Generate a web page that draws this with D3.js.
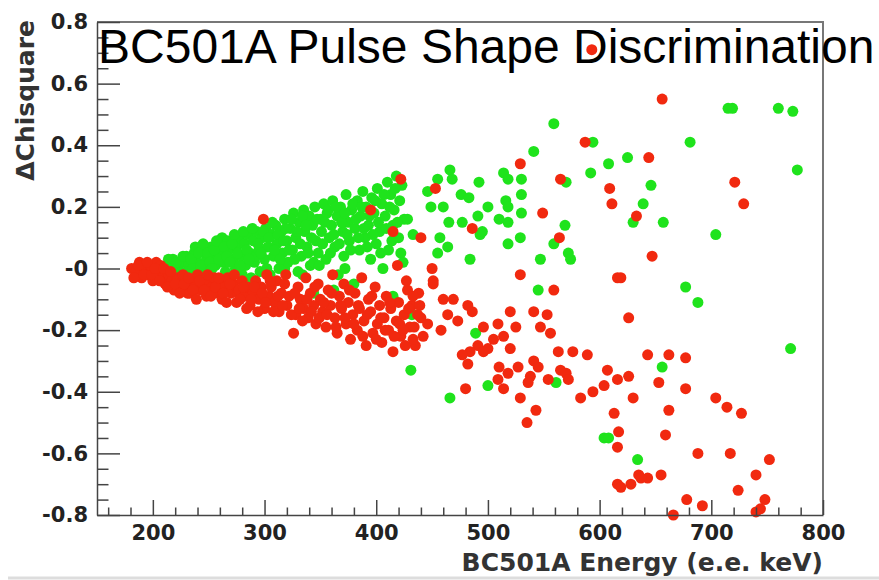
<!DOCTYPE html>
<html>
<head>
<meta charset="utf-8">
<script src="https://cdn.jsdelivr.net/npm/d3@7"></script>
<style>
  body { margin: 0; background: #fff; }
  svg { display: block; }
</style>
</head>
<body>
<div id="chart"></div>
<script>
// axis ticks
var xMajor = [200, 300, 400, 500, 600, 700, 800];
var xMinor = [160, 180, 220, 240, 260, 280, 320, 340, 360, 380, 420, 440, 460, 480,
    520, 540, 560, 580, 620, 640, 660, 680, 720, 740, 760, 780];
var yMajor = [0.8, 0.6, 0.4, 0.2, 0, -0.2, -0.4, -0.6, -0.8];
var yMinor = [0.75, 0.7, 0.65, 0.55, 0.5, 0.45, 0.35, 0.3, 0.25, 0.15, 0.1, 0.05,
    -0.05, -0.1, -0.15, -0.25, -0.3, -0.35, -0.45, -0.5, -0.55, -0.65, -0.7, -0.75];

// green events: [energy, delta chisquare]
var green = [
    [212, 0.01], [215, -0.02], [218, 0.03], [220, -0.01], [223, 0.0], [226, 0.02], [228, -0.03],
    [230, 0.04], [232, 0.01], [235, -0.02], [237, 0.05], [238, 0.07], [240, 0.02], [242, -0.04],
    [244, 0.06], [246, 0.0], [248, 0.03], [250, -0.03], [252, 0.07], [254, 0.04], [256, 0.01],
    [258, -0.05], [260, 0.08], [261, 0.05], [262, 0.1], [263, 0.02], [265, -0.01], [267, 0.09],
    [268, 0.06], [270, -0.04], [272, 0.03], [274, 0.0], [275, 0.07], [277, 0.1], [279, 0.04],
    [280, -0.02], [282, 0.08], [283, 0.01], [285, 0.11], [287, 0.05], [288, -0.03], [290, 0.09],
    [291, 0.02], [292, 0.04], [293, 0.12], [295, 0.06], [296, -0.01], [298, 0.1], [300, 0.03],
    [301, 0.13], [303, 0.07], [305, -0.02], [306, 0.11], [308, 0.04], [310, 0.14], [311, 0.08],
    [313, 0.0], [315, 0.12], [316, 0.05], [318, 0.16], [318, 0.0], [320, 0.09], [321, 0.02],
    [323, 0.13], [325, 0.06], [326, 0.18], [328, 0.1], [330, -0.01], [331, 0.15], [333, 0.04],
    [334, -0.02], [335, 0.19], [336, 0.12], [338, 0.07], [340, 0.17], [341, 0.01], [343, 0.14],
    [344, 0.02], [345, 0.2], [346, 0.09], [348, 0.05], [350, 0.16], [351, 0.12], [353, 0.21],
    [355, 0.03], [356, 0.18], [358, 0.1], [360, 0.14], [361, 0.22], [363, 0.07], [365, 0.17],
    [366, -0.02], [368, 0.2], [370, 0.12], [371, 0.04], [372, 0.0], [373, 0.24], [375, 0.15],
    [376, 0.09], [378, 0.19], [380, -0.05], [381, 0.13], [383, 0.22], [385, 0.06], [386, 0.17],
    [388, 0.25], [390, 0.1], [391, 0.2], [393, 0.14], [395, 0.03], [396, 0.23], [398, 0.18],
    [400, 0.08], [401, 0.26], [403, 0.12], [405, 0.21], [406, 0.0], [408, 0.17], [410, 0.28],
    [411, 0.06], [413, 0.24], [415, 0.14], [416, 0.19], [418, 0.3], [420, 0.1], [421, 0.22],
    [423, 0.27], [425, 0.16],
    [214, 0.03], [217, 0.0], [221, 0.02], [224, -0.03], [227, 0.04], [231, -0.01], [234, 0.03],
    [236, 0.0], [239, -0.03], [241, 0.05], [243, 0.01], [245, 0.08], [247, -0.02], [249, 0.05],
    [251, 0.02], [253, 0.0], [255, 0.06], [257, 0.09], [259, 0.03], [264, 0.07], [266, 0.04],
    [269, 0.02], [271, 0.08], [273, 0.11], [276, 0.05], [278, 0.01], [281, 0.12], [284, 0.06],
    [286, 0.03], [289, 0.13], [294, 0.08], [297, 0.05], [299, 0.12], [302, 0.0], [304, 0.1],
    [307, 0.15], [309, 0.06], [312, 0.11], [314, 0.03], [317, 0.09], [319, 0.13], [322, 0.06],
    [324, 0.16], [327, 0.03], [329, 0.12], [332, 0.08], [334, 0.17], [337, 0.14], [339, 0.05],
    [342, 0.1], [347, 0.16], [349, 0.01], [352, 0.08], [354, 0.15], [357, 0.19], [359, 0.05],
    [362, 0.11], [364, 0.2], [367, 0.08], [369, 0.15], [372, 0.18], [374, 0.11], [377, 0.06],
    [379, 0.21], [382, 0.16], [384, 0.1], [387, 0.2], [389, 0.13], [392, 0.07], [394, 0.17],
    [397, 0.11], [399, 0.22], [402, 0.15], [404, 0.05], [407, 0.24], [409, 0.13], [412, 0.2],
    [414, 0.09], [417, 0.26], [419, 0.15], [422, 0.05],
    [428, 0.16], [433, 0.11], [424, 0.02], [455, 0.05], [446, 0.25], [449, 0.2], [455, 0.29],
    [457, 0.1], [460, 0.2], [464, 0.07], [465, 0.15], [466, 0.32], [468, 0.29], [476, 0.24],
    [477, 0.15], [483, 0.23], [484, 0.03], [491, 0.17], [492, 0.28], [493, 0.11], [495, 0.12],
    [500, 0.2], [510, 0.16], [514, 0.31], [516, 0.22], [518, 0.29], [518, 0.2], [518, 0.15],
    [518, 0.08], [529, 0.1], [530, 0.29], [530, 0.24], [530, 0.18], [541, 0.38], [547, 0.03],
    [559, 0.47], [559, 0.08], [569, 0.14], [570, 0.28], [572, 0.05], [574, 0.03], [592, 0.31],
    [594, 0.41], [608, 0.34], [625, 0.36], [630, 0.15], [639, 0.21], [646, 0.27], [657, 0.15],
    [677, -0.06], [681, 0.41], [688, -0.11], [704, 0.11], [715, 0.52], [719, 0.52], [760, 0.52],
    [773, 0.51], [777, 0.32], [771, -0.26],
    [267, -0.05], [344, -0.08], [362, -0.07], [415, -0.09], [432, -0.15], [431, -0.33],
    [466, -0.42], [489, -0.21], [500, -0.38], [545, -0.07], [561, -0.37], [604, -0.55],
    [608, -0.55], [634, -0.62], [656, -0.32]
];

// red events: [energy, delta chisquare]
var red = [
    [181, 0.0], [185, -0.01], [188, 0.02], [190, -0.03], [193, 0.0], [196, -0.02], [198, 0.01],
    [200, -0.04], [203, 0.02], [205, -0.01], [207, 0.01], [209, -0.03], [211, -0.05], [214, -0.02],
    [217, -0.04], [219, -0.07], [222, -0.03], [225, -0.06], [227, -0.02], [230, -0.05], [231, -0.08],
    [233, -0.08], [235, -0.04], [238, -0.06], [240, -0.02], [243, -0.07], [245, -0.05], [248, -0.09],
    [250, -0.04], [253, -0.06], [255, -0.03], [258, -0.08], [260, -0.05], [262, -0.1], [265, -0.06],
    [267, -0.03], [270, -0.08], [272, -0.05], [275, -0.11], [276, -0.08], [277, -0.07], [280, -0.04],
    [282, -0.09], [285, -0.06], [287, -0.12], [290, -0.08], [292, -0.04], [295, -0.1], [297, -0.06],
    [300, -0.13], [302, -0.02], [304, -0.09], [306, -0.06], [309, -0.11], [311, -0.04], [313, -0.14],
    [315, -0.08], [318, -0.05], [320, -0.12], [322, -0.09], [326, -0.21], [328, -0.15], [330, -0.06],
    [332, -0.1], [335, -0.13], [337, -0.03], [339, -0.16], [341, -0.08], [344, -0.12], [346, -0.18],
    [348, -0.05], [350, -0.1], [352, -0.14], [355, -0.19], [357, -0.07], [359, -0.12], [361, -0.02],
    [363, -0.16], [365, -0.21], [367, -0.09], [369, -0.13], [371, -0.05], [373, -0.18], [375, -0.11],
    [377, -0.23], [379, -0.15], [381, -0.08], [383, -0.2], [385, -0.13], [387, -0.03], [389, -0.17],
    [391, -0.25], [393, -0.1], [395, -0.14], [397, -0.21], [399, -0.06], [401, -0.18], [403, -0.12],
    [405, -0.24], [407, -0.16], [409, -0.09], [411, -0.2], [413, -0.13], [415, -0.27], [418, -0.17],
    [420, -0.11], [422, -0.22], [425, -0.15], [427, -0.04], [430, -0.19], [432, -0.12], [435, -0.25],
    [438, -0.08], [440, -0.16],
    [183, -0.03], [187, 0.01], [192, -0.02], [195, 0.02], [199, -0.02], [202, 0.0], [206, -0.04],
    [210, 0.0], [213, -0.06], [216, -0.01], [220, -0.05], [224, -0.08], [228, -0.05], [232, -0.03],
    [236, -0.07], [239, -0.1], [242, -0.04], [246, -0.07], [249, -0.02], [252, -0.09], [256, -0.06],
    [259, -0.03], [263, -0.08], [266, -0.11], [269, -0.05], [273, -0.02], [278, -0.1], [281, -0.06],
    [284, -0.13], [288, -0.1], [291, -0.06], [294, -0.14], [298, -0.08], [301, -0.11], [305, -0.04],
    [308, -0.14], [312, -0.09], [316, -0.12], [319, -0.02], [324, -0.15], [327, -0.08], [331, -0.13],
    [334, -0.17], [338, -0.1], [342, -0.14], [345, -0.06], [349, -0.16], [353, -0.11], [356, -0.15],
    [360, -0.08], [364, -0.19], [368, -0.12], [372, -0.16], [376, -0.07], [380, -0.18], [384, -0.12],
    [388, -0.22], [392, -0.15], [396, -0.09], [400, -0.23], [404, -0.16], [408, -0.2], [412, -0.11],
    [416, -0.22], [421, -0.18], [426, -0.25], [429, -0.13], [434, -0.19], [439, -0.12],
    [299, 0.16], [395, 0.19], [415, 0.12], [419, 0.01], [422, 0.29], [440, 0.1], [450, 0.0],
    [451, -0.04], [453, 0.26], [486, 0.13], [529, 0.34], [529, -0.02], [549, 0.18], [564, 0.1],
    [565, 0.29], [587, 0.41], [593, 0.71], [609, 0.26], [611, 0.21], [616, -0.03], [619, -0.03],
    [633, 0.17], [644, 0.36], [647, 0.04], [656, 0.55], [721, 0.28], [729, 0.21],
    [451, -0.05], [428, -0.07], [460, -0.1], [469, -0.1], [482, -0.12], [486, -0.14], [464, -0.15],
    [473, -0.17], [458, -0.2], [433, -0.09], [437, -0.15], [446, -0.18], [424, -0.2], [442, -0.22],
    [433, -0.23], [520, -0.14], [509, -0.18], [496, -0.19], [525, -0.19], [541, -0.14], [553, -0.15],
    [547, -0.19], [556, -0.21], [559, -0.07], [514, -0.22], [505, -0.23], [500, -0.26], [491, -0.25],
    [484, -0.27], [477, -0.28], [482, -0.31], [496, -0.27], [520, -0.26], [510, -0.32], [518, -0.34],
    [527, -0.32], [541, -0.3], [545, -0.32], [538, -0.35], [536, -0.37], [509, -0.36], [514, -0.39],
    [480, -0.39], [529, -0.42], [543, -0.46], [535, -0.5], [563, -0.27], [576, -0.27], [589, -0.28],
    [565, -0.33], [570, -0.34], [572, -0.36], [554, -0.36], [583, -0.42], [594, -0.4], [604, -0.38],
    [607, -0.33], [616, -0.36], [626, -0.35], [626, -0.16], [643, -0.28], [630, -0.42], [613, -0.47],
    [617, -0.53], [616, -0.58], [616, -0.7], [628, -0.7], [635, -0.67], [643, -0.68], [619, -0.71],
    [637, -0.68], [655, -0.67], [662, -0.28], [677, -0.29], [653, -0.37], [677, -0.39], [662, -0.46],
    [704, -0.42], [714, -0.45], [727, -0.47], [659, -0.54], [688, -0.6], [717, -0.6], [752, -0.62],
    [740, -0.67], [724, -0.72], [678, -0.75], [692, -0.77], [666, -0.8], [740, -0.79], [744, -0.78],
    [748, -0.75]
];

var width = 879, height = 580;

var x = d3.scaleLinear().domain([150, 800]).range([97, 823]);
var y = d3.scaleLinear().domain([-0.8, 0.8]).range([515, 22]);

var svg = d3.select("#chart").append("svg")
    .attr("width", width)
    .attr("height", height);

// frame (top and right)
svg.append("path")
    .attr("d", "M" + x(150) + "," + y(0.8) + "H" + x(800) + "V" + y(-0.8))
    .attr("fill", "none")
    .attr("stroke", "#777")
    .attr("stroke-width", 2);

// points
var plot = svg.append("g");
plot.selectAll("circle.g")
    .data(green)
    .enter().append("circle")
    .attr("class", "g")
    .attr("cx", function(d) { return x(d[0]); })
    .attr("cy", function(d) { return y(d[1]); })
    .attr("r", 5.5)
    .attr("fill", "#1fe31c");

plot.selectAll("circle.r")
    .data(red)
    .enter().append("circle")
    .attr("class", "r")
    .attr("cx", function(d) { return x(d[0]); })
    .attr("cy", function(d) { return y(d[1]); })
    .attr("r", 5.5)
    .attr("fill", "#f1290f");

// X axis
svg.append("g")
    .attr("transform", "translate(0," + y(-0.8) + ")")
    .call(d3.axisBottom(x).tickValues(xMajor).tickSize(-15).tickSizeOuter(0).tickPadding(10));
svg.append("g")
    .attr("transform", "translate(0," + y(-0.8) + ")")
    .call(d3.axisBottom(x).tickValues(xMinor).tickSize(-7.5).tickFormat(""))
    .select(".domain").remove();

// Y axis
svg.append("g")
    .attr("transform", "translate(" + x(150) + ",0)")
    .call(d3.axisLeft(y).tickValues(yMajor).tickSize(-23).tickSizeOuter(0).tickPadding(9)
        .tickFormat(function(d) { return d === 0 ? "-0" : d.toFixed(1); }));
svg.append("g")
    .attr("transform", "translate(" + x(150) + ",0)")
    .call(d3.axisLeft(y).tickValues(yMinor).tickSize(-11.5).tickFormat(""))
    .select(".domain").remove();

svg.selectAll(".domain, .tick line")
    .attr("stroke", "#444")
    .attr("stroke-width", 1.5);

svg.selectAll(".tick text")
    .attr("font-family", "DejaVu Sans")
    .attr("font-weight", "bold")
    .attr("font-size", 21)
    .attr("fill", "#222");

// axis titles
svg.append("text")
    .attr("x", 823)
    .attr("y", 571)
    .attr("text-anchor", "end")
    .attr("font-family", "DejaVu Sans")
    .attr("font-weight", "bold")
    .attr("font-size", 25)
    .attr("fill", "#333")
    .text("BC501A Energy (e.e. keV)");

svg.append("text")
    .attr("transform", "translate(34,20) rotate(-90)")
    .attr("text-anchor", "end")
    .attr("font-family", "DejaVu Sans")
    .attr("font-weight", "bold")
    .attr("font-size", 25)
    .attr("fill", "#333")
    .text("\u0394Chisquare");

// title
svg.append("text")
    .attr("x", 98)
    .attr("y", 63)
    .attr("font-family", "Liberation Sans, Arial, sans-serif")
    .attr("font-size", 48)
    .attr("fill", "#000")
    .text("BC501A Pulse Shape Discrimination");

// bottom separator
svg.append("line")
    .attr("x1", 8).attr("x2", width)
    .attr("y1", 578).attr("y2", 578)
    .attr("stroke", "#ddd")
    .attr("stroke-width", 3);
</script>
</body>
</html>
